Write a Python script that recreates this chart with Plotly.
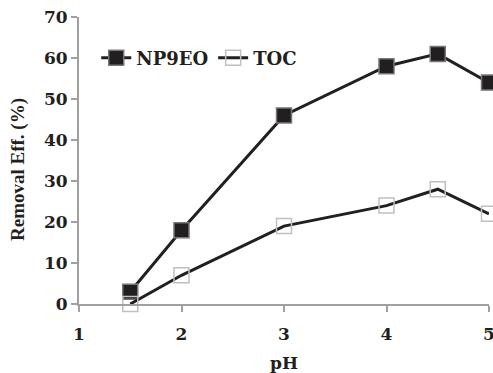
import plotly.graph_objects as go

ph = [1.5, 2, 3, 4, 4.5, 5]
np9eo = [3, 18, 46, 58, 61, 54]
toc = [0, 7, 19, 24, 28, 22]
x_ticks = [1, 2, 3, 4, 5]
y_ticks = [0, 10, 20, 30, 40, 50, 60, 70]

dark = "#231f20"
axis_gray = "#a0a0a0"
font = dict(family="DejaVu Serif", size=17, color=dark, weight="bold")
legend_font = dict(family="DejaVu Serif", size=18, color=dark, weight="bold")
title_font = dict(family="Liberation Serif", size=19, color=dark, weight="bold")

fig = go.Figure()
fig.add_trace(go.Scatter(
    x=ph, y=np9eo, name="NP9EO", mode="lines+markers",
    line=dict(color=dark, width=3),
    marker=dict(symbol="square", size=15, color=dark, line=dict(color="#777777", width=1.5)),
    cliponaxis=False,
))
fig.add_trace(go.Scatter(
    x=ph, y=toc, name="TOC", mode="lines+markers",
    line=dict(color=dark, width=3),
    marker=dict(symbol="square-open", size=15, color="#c0c0c0", line=dict(color="#c0c0c0", width=1.5)),
    cliponaxis=False,
))

fig.update_layout(
    width=493, height=373,
    margin=dict(l=79, r=4, t=17, b=69, autoexpand=False),
    paper_bgcolor="white", plot_bgcolor="white",
    font=font,
    showlegend=True,
    legend=dict(orientation="h", x=0.042, xanchor="left", y=0.857, yanchor="middle",
                bgcolor="rgba(0,0,0,0)", font=legend_font, itemwidth=30,
                tracegroupgap=0),
    xaxis=dict(range=[1, 5], tickvals=x_ticks, showgrid=False, zeroline=False,
               showline=True, linecolor=axis_gray, linewidth=2, automargin=False,
               ticks="outside", tickcolor=axis_gray, ticklen=6, tickwidth=1.5,
               ticklabelstandoff=8, ticklabeloverflow="allow",
               title=dict(text="pH", font=font, standoff=16)),
    yaxis=dict(range=[0, 70], tickvals=y_ticks, showgrid=False, zeroline=False,
               showline=True, linecolor=axis_gray, linewidth=2, automargin=False,
               ticks="outside", tickcolor=axis_gray, ticklen=6, tickwidth=1.5),
    annotations=[dict(text="Removal Eff. (%)", textangle=-90, font=title_font,
                      xref="paper", yref="paper", x=(18 - 79) / 410, y=1 - (170 - 17) / 287,
                      xanchor="center", yanchor="middle", showarrow=False)],
)

fig.write_html("out.html", config={"displayModeBar": False},
               post_script="document.body.style.margin='0';")
